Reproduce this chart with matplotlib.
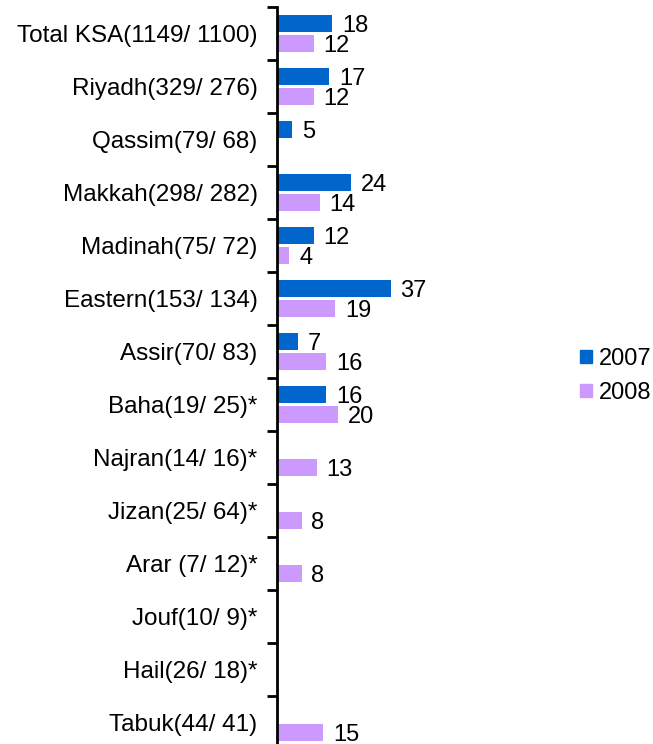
import numpy as np
import matplotlib.pyplot as plt
from matplotlib.patches import Patch

# ======================================================================================== #
# Dados do gráfico.
# ======================================================================================== #
regioes = [
    "Total KSA(1149/ 1100)",
    "Riyadh(329/ 276)",
    "Qassim(79/ 68)",
    "Makkah(298/ 282)",
    "Madinah(75/ 72)",
    "Eastern(153/ 134)",
    "Assir(70/ 83)",
    "Baha(19/ 25)*",
    "Najran(14/ 16)*",
    "Jizan(25/ 64)*",
    "Arar (7/ 12)*",
    "Jouf(10/ 9)*",
    "Hail(26/ 18)*",
    "Tabuk(44/ 41)",
]
valores_2007 = [18, 17, 5, 24, 12, 37, 7, 16, None, None, None, None, None, None]
valores_2008 = [12, 12, None, 14, 4, 19, 16, 20, 13, 8, 8, None, None, 15]
series = ["2007", "2008"]

cor_2007 = "#0066CC"
cor_2008 = "#CC99FF"

plt.rcParams["font.family"] = ["Liberation Sans", "DejaVu Sans"]

fig = plt.figure(figsize=(6.53, 7.44), dpi=100)

# eixo posicionado em pixels: linha vertical em x=277, faixa de 53 px por região
largura_px, altura_px = 653, 744
px_por_unidade = 3.07
x_max = 60
topo_px, fundo_px = 7, 7 + 53 * len(regioes)
ax = fig.add_axes([
    277 / largura_px,
    1 - fundo_px / altura_px,
    x_max * px_por_unidade / largura_px,
    (fundo_px - topo_px) / altura_px,
])

posicoes = np.arange(len(regioes))
altura_barra = 0.32
deslocamento = 0.19

for valores, cor, sinal in [(valores_2007, cor_2007, -1), (valores_2008, cor_2008, 1)]:
    for pos, valor in zip(posicoes, valores):
        if valor is None:
            continue
        y = pos + sinal * deslocamento
        ax.barh(y, valor, height=altura_barra, color=cor, edgecolor="none")
        ax.annotate(
            str(valor),
            xy=(valor, y),
            xytext=(7, 0),
            textcoords="offset points",
            ha="left",
            va="center_baseline",
            fontsize=17,
        )

ax.set_xlim(0, x_max)
ax.set_ylim(len(regioes) - 0.5, -0.5)

ax.set_yticks(posicoes)
ax.set_yticklabels(regioes, fontsize=17.5)
ax.tick_params(axis="y", which="major", length=0, pad=14)
ax.set_yticks(np.arange(len(regioes) + 1) - 0.5, minor=True)
ax.tick_params(axis="y", which="minor", length=7, width=2, direction="out")

ax.set_xticks([])
for lado in ["top", "right", "bottom"]:
    ax.spines[lado].set_visible(False)
ax.spines["left"].set_linewidth(2)

handles = [Patch(color=cor_2007), Patch(color=cor_2008)]
fig.legend(
    handles,
    series,
    loc="center left",
    bbox_to_anchor=(580 / largura_px, 1 - 376 / altura_px),
    frameon=False,
    fontsize=17,
    borderpad=0,
    borderaxespad=0,
    handlelength=0.5,
    handleheight=0.5,
    handletextpad=0.3,
    labelspacing=0.5,
)

fig.savefig("out.png", dpi=100)
